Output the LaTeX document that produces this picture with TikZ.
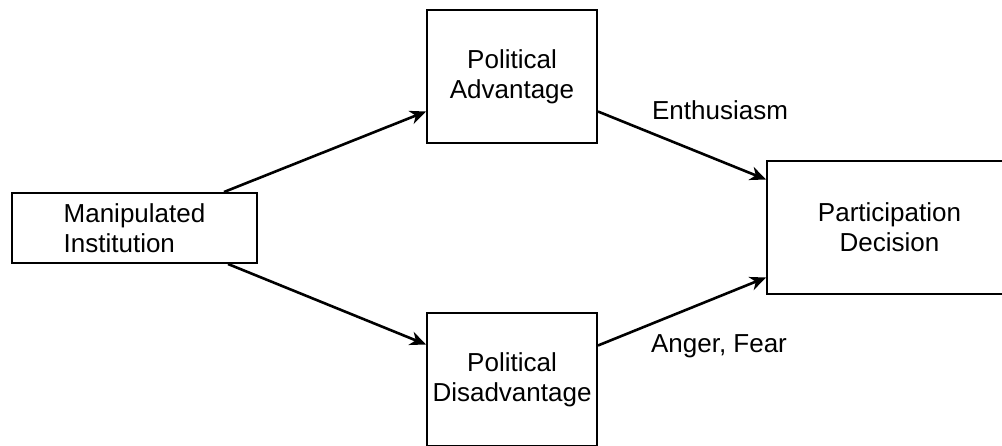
\documentclass[tikz,border=0pt]{standalone}
\usepackage{fontspec}
\setmainfont{Liberation Sans}
\usepackage{tikz}
\usetikzlibrary{calc,arrows.meta}

\tikzset{
  box/.style={draw, line width=1pt, align=center, inner sep=0pt,
    font=\fontsize{13}{15}\selectfont},
  lbl/.style={inner sep=0pt, font=\fontsize{13}{15}\selectfont},
  flow/.style={line width=1.3pt, -{Stealth[length=8pt,width=7pt,inset=2.5pt]}}
}

\begin{document}
\begin{tikzpicture}[x=0.5pt, y=-0.5pt]
  \useasboundingbox (0,0) rectangle (1002,445);

  % Draw the boxes
  \node[box, align=left, minimum width=122.5pt, minimum height=35pt] (inst) at (134.5,228) {Manipulated\\Institution};
  \node[box, minimum width=85pt, minimum height=66.5pt] (adv) at (512,76.5) {Political\\Advantage};
  \node[box, minimum width=85pt, minimum height=66.5pt] (dis) at (512,379.5) {Political\\Disadvantage};
  \node[box, minimum width=122.5pt, minimum height=66.5pt] (dec) at (889.5,227.5) {Participation\\Decision};

  % Draw the arrows
  \draw[flow] ($(inst.north east)+(-34,0)$) -- ($(adv.west)+(0,35)$);
  \draw[flow] ($(inst.south east)+(-30,0)$) -- ($(dis.west)+(0,-35)$);
  \draw[flow] ($(adv.east)+(0,35)$) -- ($(dec.west)+(0,-48)$);
  \draw[flow] ($(dis.east)+(0,-34)$) -- ($(dec.west)+(0,50)$);

  % Label the emotions
  \node[lbl, anchor=base] (enth) at (720,119) {Enthusiasm};
  \node[lbl, anchor=base] (fear) at (719,352) {Anger, Fear};
\end{tikzpicture}
\end{document}
